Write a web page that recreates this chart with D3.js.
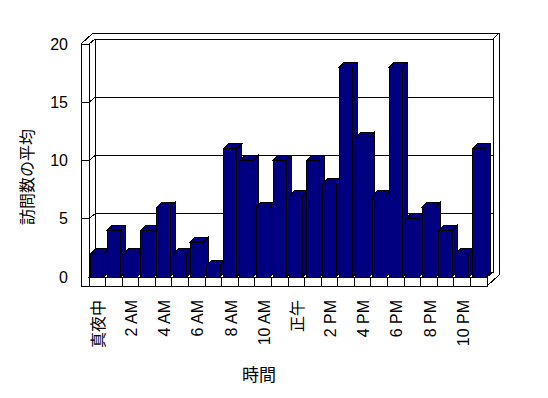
<!DOCTYPE html>
<html>
<head>
<meta charset="utf-8">
<script src="https://cdn.jsdelivr.net/npm/d3@7"></script>
<style>
  body { margin: 0; background: #fff; }
  svg { display: block; }
  text { font-family: 'Liberation Sans', 'Noto Sans CJK JP', sans-serif; fill: #000; }
</style>
</head>
<body>
<div id="chart"></div>
<script>
const hours = ["真夜中", "1 AM", "2 AM", "3 AM", "4 AM", "5 AM", "6 AM", "7 AM", "8 AM", "9 AM", "10 AM", "11 AM",
  "正午", "1 PM", "2 PM", "3 PM", "4 PM", "5 PM", "6 PM", "7 PM", "8 PM", "9 PM", "10 PM", "11 PM"];
const visits = [2, 4, 2, 4, 6, 2, 3, 1, 11, 10, 6, 10, 7, 10, 8, 18, 12, 7, 18, 5, 6, 4, 2, 11];
const yTicks = [0, 5, 10, 15, 20];
const xTickLabels = hours.filter((d, i) => i % 2 === 0);
const yTitle = "訪問数の平均";
const xTitle = "時間";

const chartW = 548, chartH = 398;
const plotL = 89, plotR = 487, plotT = 44, plotB = 277;
const wall = 8, floorH = 9;
const dx = 6, dy = -5;    // front -> back wall face
const bx = 12, by = -11;  // front -> back of back wall
const barD = 5;

const x = d3.scaleBand().domain(hours).range([plotL, plotR]).paddingInner(0.2).paddingOuter(0.1);
const y = d3.scaleLinear().domain([0, 20]).range([plotB, plotT]);
const step = x.step();

const svg = d3.select("#chart").append("svg").attr("width", chartW).attr("height", chartH);
const poly = pts => "M" + pts.map(p => p.join(",")).join("L") + "Z";
const line = pts => "M" + pts.map(p => p.join(",")).join("L");

const frame = svg.append("g").attr("stroke", "#000").attr("fill", "#fff").attr("shape-rendering", "crispEdges");
// outline of walls + floor
frame.append("path").attr("d", poly([[plotL - wall, plotB + floorH], [plotL - wall, plotT], [plotL - wall + bx, plotT + by],
  [plotR + bx, plotT + by], [plotR + bx, plotB + floorH + by], [plotR, plotB + floorH]]));
// back wall face
frame.append("rect").attr("x", plotL + dx).attr("y", y(20) + dy).attr("width", plotR - plotL).attr("height", y(0) - y(20));
frame.append("path").attr("fill", "none").attr("d",
  line([[plotL - wall, plotT], [plotL, plotT], [plotL + dx, plotT + dy]]) +
  line([[plotL, plotT], [plotL, plotB]]) +
  line([[plotR + dx, plotT + dy], [plotR + bx, plotT + by]]));
// floor
frame.append("path").attr("d", poly([[plotL, plotB], [plotR, plotB], [plotR + dx, plotB + dy], [plotL + dx, plotB + dy]]));
frame.append("rect").attr("x", plotL).attr("y", plotB).attr("width", plotR - plotL).attr("height", floorH);
frame.append("path").attr("fill", "none").attr("d", line([[plotL - wall, plotB + floorH], [plotR, plotB + floorH]]));

// gridlines
frame.selectAll(".grid").data(yTicks.filter(v => v > 0 && v < 20)).join("path").attr("fill", "none")
  .attr("d", v => line([[plotL - wall, y(v)], [plotL, y(v)], [plotL + dx, y(v) + dy], [plotR + dx, y(v) + dy]]));

// category separators on floor edge
frame.selectAll(".sep").data(hours.slice(1)).join("path").attr("fill", "none")
  .attr("d", d => { const sx = x(d) - x.paddingInner() * step / 2; return line([[sx, plotB], [sx, plotB + floorH]]); });

// bars
const bars = svg.append("g").attr("fill", "#000080").attr("stroke", "#000").attr("shape-rendering", "crispEdges");
hours.forEach((h, i) => {
  const x0 = x(h), w = x.bandwidth(), yt = y(visits[i]);
  const g = bars.append("g");
  g.append("path").attr("d", poly([[x0 + w, yt], [x0 + w + barD, yt - barD], [x0 + w + barD, plotB - barD], [x0 + w, plotB]]));
  g.append("path").attr("d", poly([[x0, yt], [x0 + barD, yt - barD], [x0 + w + barD, yt - barD], [x0 + w, yt]]));
  g.append("rect").attr("x", x0).attr("y", yt).attr("width", w).attr("height", plotB - yt);
});

// y tick labels
svg.append("g").selectAll("text").data(yTicks).join("text")
  .attr("x", 68).attr("y", d => y(d)).attr("dy", "0.35em").attr("text-anchor", "end")
  .attr("font-size", 16).text(d => d);

// x tick labels
svg.append("g").selectAll("text").data(xTickLabels).join("text")
  .attr("transform", d => `translate(${x(d) + x.bandwidth() / 2 + 1},300) rotate(-90)`)
  .attr("dy", "0.35em").attr("text-anchor", "end").attr("font-size", 16).text(d => d);

// titles
svg.append("text").attr("transform", "translate(27,177) rotate(-90)").attr("dy", "0.35em")
  .attr("text-anchor", "middle").attr("font-size", 16).text(yTitle);
svg.append("text").attr("x", 259).attr("y", 375).attr("dy", "0.35em")
  .attr("text-anchor", "middle").attr("font-size", 17).text(xTitle);
</script>
</body>
</html>
